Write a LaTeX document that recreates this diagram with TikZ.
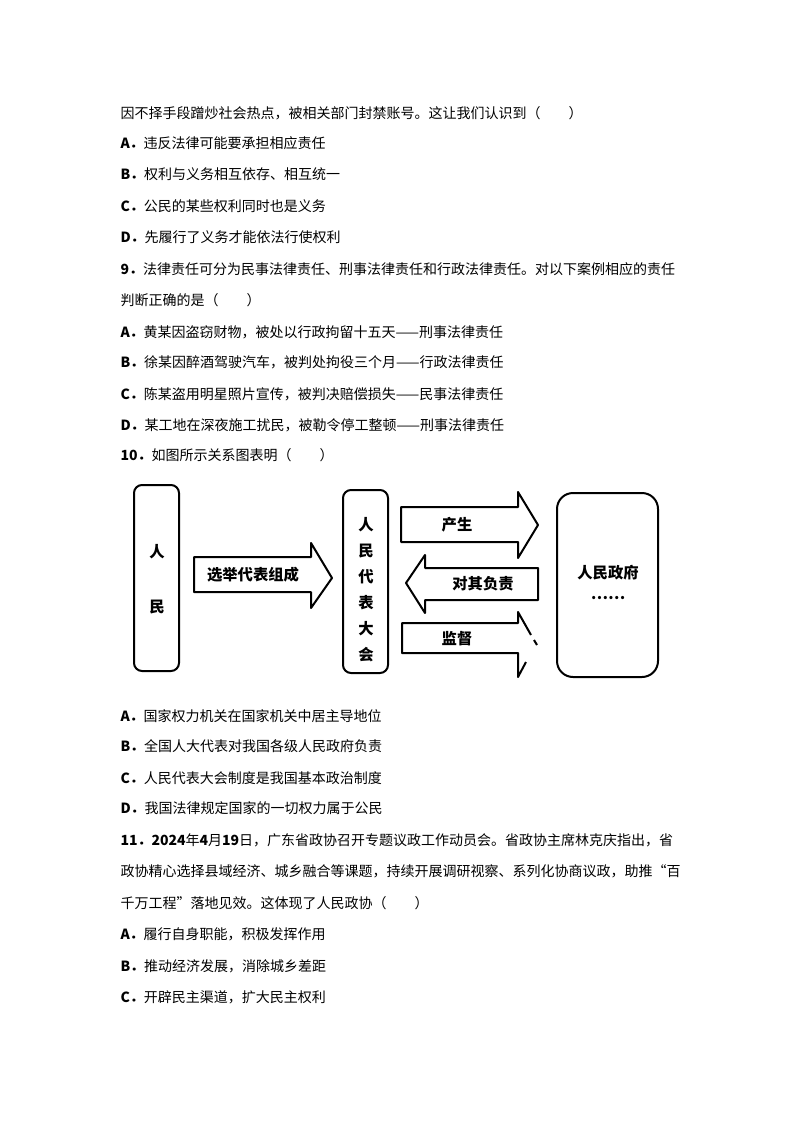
\documentclass[tikz,border=0pt]{standalone}
\usepackage{fontspec}
\setmainfont{Noto Sans CJK SC}
\tikzset{every picture/.style={line width=0.75pt}}
\tikzset{
  txt/.style={anchor=west,inner sep=0pt,font=\fontsize{10.5pt}{12pt}\selectfont},
  lbl/.style={inner sep=0pt,font=\fontsize{11.5pt}{12pt}\selectfont\bfseries},
  box/.style={draw,line width=1.5pt,rounded corners=6pt},
  fat/.style={draw,line width=1.5pt,line join=round}
}
\begin{document}
\begin{tikzpicture}[x=0.75pt,y=0.75pt,yscale=-1,xscale=1]
\useasboundingbox (0,0) rectangle (794,1123);

% Text Lines
\draw (120,113) node[txt] {因不择手段蹭炒社会热点，被相关部门封禁账号。这让我们认识到（\quad\quad）};
\draw (120,143) node[txt] {\textbf{A．}违反法律可能要承担相应责任};
\draw (120,174) node[txt] {\textbf{B．}权利与义务相互依存、相互统一};
\draw (120,206) node[txt] {\textbf{C．}公民的某些权利同时也是义务};
\draw (120,237) node[txt] {\textbf{D．}先履行了义务才能依法行使权利};
\draw (120,269) node[txt] {\textbf{9．}法律责任可分为民事法律责任、刑事法律责任和行政法律责任。对以下案例相应的责任};
\draw (120,300) node[txt] {判断正确的是（\quad\quad）};
\draw (120,332) node[txt] {\textbf{A．}黄某因盗窃财物，被处以行政拘留十五天——刑事法律责任};
\draw (120,362) node[txt] {\textbf{B．}徐某因醉酒驾驶汽车，被判处拘役三个月——行政法律责任};
\draw (120,394) node[txt] {\textbf{C．}陈某盗用明星照片宣传，被判决赔偿损失——民事法律责任};
\draw (120,425) node[txt] {\textbf{D．}某工地在深夜施工扰民，被勒令停工整顿——刑事法律责任};
\draw (120,455) node[txt] {\textbf{10．}如图所示关系图表明（\quad\quad）};

%Shape: Boxes
\draw[box] (134,485) rectangle (179,671);
\draw[box] (343,490) rectangle (388,673);
\draw[box,rounded corners=12pt] (557,493) rectangle (658,677);

%Arrows
\draw[fat] (194,557) -- (311,557) -- (311,543) -- (332,578) -- (311,608) -- (311,592) -- (194,592) -- cycle ;
\draw[fat] (401,507) -- (518,507) -- (518,492) -- (538,525) -- (518,558) -- (518,542) -- (401,542) -- cycle ;
\draw[fat] (538,568) -- (425,568) -- (425,555) -- (406,583) -- (425,613) -- (425,600) -- (538,600) -- cycle ;
\draw[fat] (531,635) -- (518,612) -- (518,623) -- (402,623) -- (402,653) -- (518,653) -- (518,677) -- (526,662) ;
\draw[fat] (534,640) -- (537,645) ;

% Text Node
\draw (157,552) node[lbl] (ren) {人};
\draw (157,607) node[lbl] (min) {民};
\foreach \c [count=\i] in {人,民,代,表,大,会}
  \draw (366,499+26*\i) node[lbl] {\c};
\draw (253,575) node[lbl] {选举代表组成};
\draw (457,525) node[lbl] {产生};
\draw (483,584) node[lbl] {对其负责};
\draw (457,639) node[lbl] {监督};
\draw (608,573) node[lbl] {人民政府};
\draw (608,598) node[lbl] {……};

% Text Lines
\draw (120,716) node[txt] {\textbf{A．}国家权力机关在国家机关中居主导地位};
\draw (120,746) node[txt] {\textbf{B．}全国人大代表对我国各级人民政府负责};
\draw (120,778) node[txt] {\textbf{C．}人民代表大会制度是我国基本政治制度};
\draw (120,808) node[txt] {\textbf{D．}我国法律规定国家的一切权力属于公民};
\draw (120,840) node[txt] {\textbf{11．2024}年\textbf{4}月\textbf{19}日，广东省政协召开专题议政工作动员会。省政协主席林克庆指出，省};
\draw (120,871) node[txt] {政协精心选择县域经济、城乡融合等课题，持续开展调研视察、系列化协商议政，助推“百};
\draw (120,903) node[txt] {千万工程”落地见效。这体现了人民政协（\quad\quad）};
\draw (120,934) node[txt] {\textbf{A．}履行自身职能，积极发挥作用};
\draw (120,966) node[txt] {\textbf{B．}推动经济发展，消除城乡差距};
\draw (120,997) node[txt] {\textbf{C．}开辟民主渠道，扩大民主权利};
\end{tikzpicture}
\end{document}
